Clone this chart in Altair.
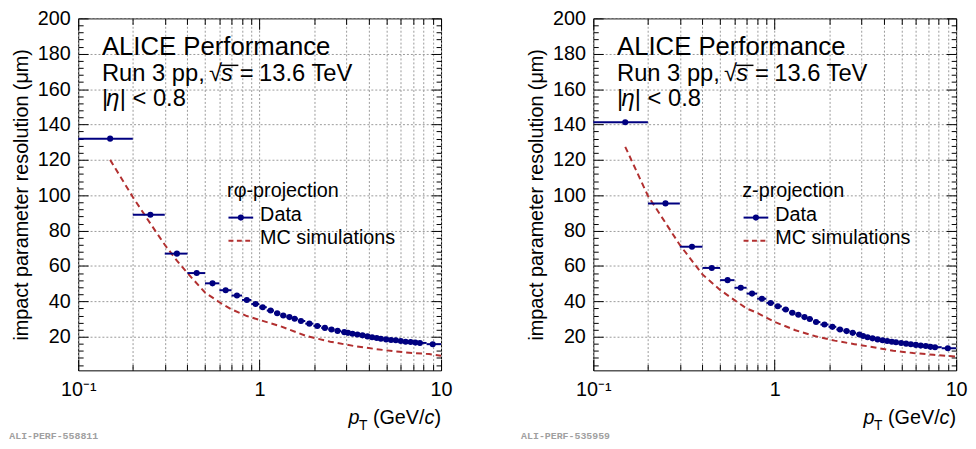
import altair as alt
import pandas as pd

FONT = "Liberation Sans"
DATA_C = "#000080"
MC_C = "#b23030"
GRID_C = "#9a9a9a"

# ---- data ----
pt_centers = [0.15, 0.25, 0.35, 0.45, 0.55, 0.65, 0.75, 0.85, 0.95,
              1.04, 1.15, 1.25, 1.35, 1.46, 1.56, 1.69, 1.88, 2.08, 2.29, 2.49, 2.69,
              2.93, 3.07, 3.25, 3.46, 3.69, 3.93, 4.17, 4.42, 4.66, 4.98, 5.3, 5.63,
              6.0, 6.38, 6.8, 7.22, 7.65, 9.0]

res_rphi = [132, 89, 67, 56, 50.2, 46.3, 43.3, 40.8, 38.5,
            36.7, 34.8, 33.3, 32.0, 31.1, 30.2, 28.9, 27.4, 26.1, 25.0, 24.1, 23.3,
            22.6, 22.2, 21.7, 21.3, 20.8, 20.2, 19.7, 19.3, 18.9, 18.5, 18.2, 18.0,
            17.6, 17.2, 17.0, 16.7, 16.5, 15.8]

res_z = [141.3, 95.4, 70.9, 58.9, 52.0, 47.7, 44.4, 41.5, 39.1,
         37.2, 35.4, 33.6, 32.4, 31.1, 30.0, 28.3, 26.9, 25.6, 24.1, 23.2, 22.2,
         21.3, 20.4, 19.7, 19.1, 18.5, 18.0, 17.6, 17.2, 16.9, 16.5, 16.1, 15.8,
         15.4, 15.0, 14.8, 14.3, 14.1, 13.5]

mc_pt_rphi = [0.15, 0.2, 0.25, 0.3, 0.35, 0.4, 0.5, 0.6, 0.7, 0.85, 1.0, 1.3,
              1.8, 2.45, 3.3, 4.4, 5.6, 7.0, 8.6, 10.0]
mc_rphi = [120, 99, 84, 72, 63, 56, 45, 39.5, 35.5, 31.7, 29.5, 26.0,
           20.5, 17.2, 14.8, 13.0, 11.7, 10.8, 10.2, 9.3]

mc_pt_z = [0.15, 0.2, 0.3, 0.4, 0.5, 0.6, 0.7, 0.8, 1.0, 1.3, 1.66, 2.14,
           2.75, 3.5, 4.5, 5.8, 7.5, 10.0]
mc_z = [127.4, 99.7, 71.9, 55.2, 46.5, 40.7, 36.0, 33.5, 28.4, 23.7, 20.4, 17.8,
        15.8, 14.1, 12.1, 10.8, 9.8, 8.8]

x_range = [0.1, 10]
y_range = [1, 200]
x_all_ticks = [0.1, 0.2, 0.3, 0.4, 0.5, 0.6, 0.7, 0.8, 0.9, 1, 2, 3, 4, 5, 6, 7, 8, 9, 10]
x_major = [0.1, 1, 10]
x_minor = [0.2, 0.3, 0.4, 0.5, 0.6, 0.7, 0.8, 0.9, 2, 3, 4, 5, 6, 7, 8, 9]
y_major = [20, 40, 60, 80, 100, 120, 140, 160, 180, 200]
y_minor = [v for v in range(4, 200, 4) if v % 20]

# bin edges: midpoints between neighbouring bin centres
bin_lo = [x_range[0]] + [(a + b) / 2 for a, b in zip(pt_centers[:-1], pt_centers[1:])]
bin_hi = bin_lo[1:] + [x_range[1]]

W, H = 367, 356
DY = -2  # vertical offset of the annotations relative to the plot top


def txt(s, x, y, size, italic=False, align="left", baseline="alphabetic",
        font=FONT, color="black", weight="normal"):
    return alt.Chart(pd.DataFrame({"t": [s]})).mark_text(
        align=align, baseline=baseline, fontSize=size, font=font,
        fontStyle="italic" if italic else "normal", color=color, fontWeight=weight
    ).encode(x=alt.value(x), y=alt.value(y + DY), text="t:N")


def panel(res, mc_pt, mc_val, proj, ali, ali_dx):
    df = pd.DataFrame({"pt": pt_centers, "lo": bin_lo, "hi": bin_hi, "res": res})
    mc = pd.DataFrame({"pt": mc_pt, "res": mc_val})
    xs = alt.Scale(type="log", domain=x_range, nice=False)
    ys = alt.Scale(domain=y_range, nice=False, zero=False)

    main_x = alt.Axis(values=x_all_ticks, grid=True, gridColor=GRID_C, gridDash=[2, 2],
                      gridWidth=1, ticks=False, domain=False, labelPadding=9,
                      labelFlush=False, labelOverlap=False, title=None,
                      labelExpr="datum.value < 0.15 ? '10⁻¹' : (abs(datum.value - 1) < 0.01 ? '1' : (datum.value > 9.5 ? '10' : ''))")
    main_y = alt.Axis(values=y_major, grid=True, gridColor=GRID_C, gridDash=[2, 2],
                      gridWidth=1, ticks=False, domain=False, labelPadding=8,
                      labelOverlap=False, title="impact parameter resolution (μm)",
                      titlePadding=6, titleFontWeight="normal")

    mc_line = alt.Chart(mc).mark_line(color=MC_C, strokeWidth=2, strokeDash=[6, 4]).encode(
        x=alt.X("pt:Q", scale=xs, axis=main_x),
        y=alt.Y("res:Q", scale=ys, axis=main_y))
    bars = alt.Chart(df).mark_rule(color=DATA_C, strokeWidth=2).encode(
        x=alt.X("lo:Q", scale=xs, axis=None), x2="hi:Q",
        y=alt.Y("res:Q", scale=ys, axis=None))
    pts = alt.Chart(df).mark_point(filled=True, color=DATA_C, size=38, opacity=1).encode(
        x=alt.X("pt:Q", scale=xs, axis=None),
        y=alt.Y("res:Q", scale=ys, axis=None))

    def ticks(xv, xo, xl, yv, yo, yl):
        def ax(vals, orient, ln):
            return alt.Axis(orient=orient, values=vals, offset=-ln, tickSize=ln,
                            labels=False, domain=False, grid=False, ticks=True,
                            tickColor="black", tickWidth=1, title=None)
        return alt.Chart(df).mark_point(opacity=0).encode(
            x=alt.X("pt:Q", scale=xs, axis=ax(xv, xo, xl)),
            y=alt.Y("res:Q", scale=ys, axis=ax(yv, yo, yl)))

    t1 = ticks(x_major, "bottom", 11, y_major, "left", 10)
    t2 = ticks(x_minor, "bottom", 6, y_minor, "left", 5)
    t3 = ticks(x_major, "top", 11, y_major, "right", 10)
    t4 = ticks(x_minor, "top", 6, y_minor, "right", 5)

    one = pd.DataFrame({"a": [0]})
    leg_data_line = alt.Chart(one).mark_rule(color=DATA_C, strokeWidth=2).encode(
        x=alt.value(152), x2=alt.value(177), y=alt.value(203.5 + DY))
    leg_data_pt = alt.Chart(one).mark_point(filled=True, color=DATA_C, size=38, opacity=1).encode(
        x=alt.value(164.5), y=alt.value(203.5 + DY))
    leg_mc = alt.Chart(one).mark_rule(color=MC_C, strokeWidth=2, strokeDash=[5, 3.5]).encode(
        x=alt.value(152), x2=alt.value(174), y=alt.value(227 + DY))
    overline = alt.Chart(one).mark_rule(color="black", strokeWidth=1.5).encode(
        x=alt.value(144.5), x2=alt.value(162), y=alt.value(49.5 + DY))

    texts = [
        txt("ALICE Performance", 24, 39.3, 26),
        txt("Run 3 pp,", 24, 65.3, 24),
        txt("√", 132.3, 65.3, 24),
        txt("s", 144.5, 65.3, 24, italic=True),
        txt("=", 163.5, 65.3, 24),
        txt("13.6 TeV", 183, 65.3, 24),
        txt("|", 24, 90.3, 24),
        txt("η", 28.5, 90.3, 24, italic=True),
        txt("| < 0.8", 42, 90.3, 24),
        txt(proj, 150.6, 183, 20),
        txt("Data", 184, 207, 20),
        txt("MC simulations", 184, 230, 20),
        # x-axis title  p_T (GeV/c)
        txt(")", W, 412.5, 20, align="right"),
        txt("c", W - 6.7, 412.5, 20, italic=True, align="right"),
        txt("(GeV/", W - 16.7, 412.5, 20, align="right"),
        txt("T", W - 74.5, 418, 14, align="right"),
        txt("p", W - 82.5, 412.5, 20, italic=True, align="right"),
        txt(ali, ali_dx, 424.7, 10, baseline="middle", font="Liberation Mono",
            color="#a0a0a0", weight="bold"),
    ]

    return alt.layer(mc_line, bars, pts, t1, t2, t3, t4,
                     leg_data_line, leg_data_pt, leg_mc, overline, *texts
                     ).resolve_axis(x="independent", y="independent"
                                    ).properties(width=W, height=H)


left = panel(res_rphi, mc_pt_rphi, mc_rphi, "rφ-projection", "ALI-PERF-558811", -69.7)
right = panel(res_z, mc_pt_z, mc_z, "z-projection", "ALI-PERF-535959", -73)

chart = alt.hconcat(left, right, spacing=68).properties(
    padding={"left": 0, "top": -3, "right": 0, "bottom": 0}, background="white"
).configure_view(stroke="black", strokeWidth=1).configure_axis(
    labelFont=FONT, titleFont=FONT, labelColor="black", titleColor="black",
    labelFontSize=20, titleFontSize=20, titleFontWeight="normal")

chart.save("out.html", embed_options={"renderer": "svg", "actions": False})
